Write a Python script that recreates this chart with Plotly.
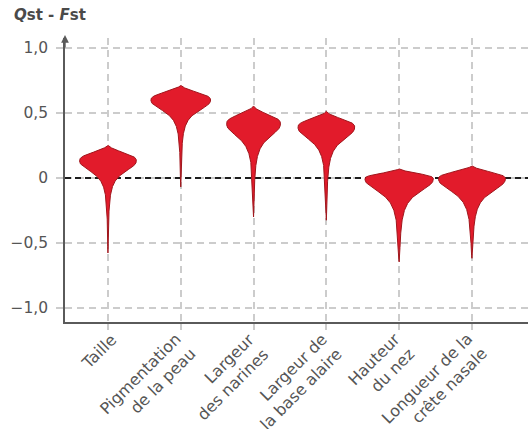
import numpy as np
import plotly.graph_objects as go

# Traits and Qst - Fst distribution summaries
categories = [
    "Taille",
    "Pigmentation<br>de la peau",
    "Largeur<br>des narines",
    "Largeur de<br>la base alaire",
    "Hauteur<br>du nez",
    "Longueur de la<br>crête nasale",
]
dist_max = [0.254, 0.715, 0.554, 0.513, 0.072, 0.095]
dist_mode = [0.133, 0.600, 0.418, 0.392, -0.005, -0.005]
dist_min = [-0.577, -0.069, -0.300, -0.325, -0.646, -0.618]
# relative density at the mode and spread of the lower tail
mode_density = [0.39, 0.41, 0.37, 0.39, 0.47, 0.46]
tail_scale = [0.100, 0.098, 0.120, 0.116, 0.120, 0.118]

y_ticks = [-1.0, -0.5, 0.0, 0.5, 1.0]
y_tick_text = ["\u22121,0", "\u22120,5", "0", "0,5", "1,0"]

X_RANGE = [-0.59, 5.77]
Y_RANGE = [-1.108, 1.077]

FILL = "#e21b2b"
EDGE = "#a0161c"
GRID = "#cccccc"
AXIS = "#5a5a5a"
FONT = "DejaVu Sans"
LABEL_SIZE = 16
PLOT_H = 429 - 38 - 107


def violin_outline(center, top, mode, bottom, width, scale, n=500):
    """Closed outline of an asymmetric violin: rounded head above the mode,
    heavy tail below it."""
    ys = np.linspace(bottom, top, n)
    w = np.zeros_like(ys)
    up = ys >= mode
    d_up = ys[up] - mode
    span_up = top - mode
    s = 0.69 * span_up
    g_end = np.exp(-(span_up / s) ** 2.5)
    g = (np.exp(-(d_up / s) ** 2.5) - g_end) / (1 - g_end)
    w[up] = np.clip(g, 0, None) ** 1.1
    lo = ~up
    d_lo = mode - ys[lo]
    span_lo = mode - bottom
    taper = np.sqrt(np.clip(1 - (d_lo / span_lo) ** 8, 0, None))
    w[lo] = taper / (1 + (d_lo / scale) ** 2.4)
    w *= width
    xs = np.concatenate([center - w, (center + w)[::-1]])
    yy = np.concatenate([ys, ys[::-1]])
    return xs, yy


fig = go.Figure()

# dashed reference line at zero, beneath the violins
fig.add_trace(go.Scatter(
    x=X_RANGE, y=[0, 0], mode="lines",
    line=dict(color="#1e1e1e", width=2, dash="6px,4px"),
    hoverinfo="skip", showlegend=False, cliponaxis=False,
))

for i, name in enumerate(categories):
    xs, ys = violin_outline(i, dist_max[i], dist_mode[i], dist_min[i],
                            mode_density[i], tail_scale[i])
    fig.add_trace(go.Scatter(
        x=xs, y=ys, mode="lines", fill="toself",
        fillcolor=FILL, line=dict(color=EDGE, width=1),
        hoverinfo="skip", showlegend=False,
    ))

# slanted category labels: the first line ends just under its tick
for i, label in enumerate(categories):
    n_lines = label.count("<br>") + 1
    fig.add_annotation(
        xref="x", yref="paper", x=i, y=-5 / PLOT_H,
        text=label, textangle=-45, showarrow=False,
        xanchor="right", yanchor="top", align="right",
        xshift=15 + 7 * (n_lines - 1),
        font=dict(family=FONT, size=LABEL_SIZE, color="#555555"),
    )

# arrowhead on top of the y axis
fig.add_annotation(
    xref="paper", yref="paper", x=0, y=1.0, yshift=3,
    ax=0, ay=14, text="", showarrow=True,
    arrowhead=2, arrowsize=1.1, arrowwidth=1.4, arrowcolor=AXIS,
)

fig.update_layout(
    width=528, height=429,
    margin=dict(l=65, r=0, t=38, b=107, autoexpand=False),
    paper_bgcolor="white", plot_bgcolor="white",
    font=dict(family=FONT, color="#555555"),
    title=dict(
        text="<b><i>Q</i>st - <i>F</i>st</b>",
        x=14 / 528, xanchor="left", xref="container",
        y=1 - 9 / 429, yanchor="top", yref="container",
        font=dict(family=FONT, size=15, color="#4a4a4a"),
    ),
)

fig.update_xaxes(
    range=X_RANGE, automargin=False,
    tickvals=list(range(len(categories))), showticklabels=False,
    ticks="outside", ticklen=6, tickcolor=GRID, tickwidth=1.5,
    showgrid=True, gridcolor=GRID, gridwidth=1.5, griddash="7px,5px",
    showline=True, linecolor=AXIS, linewidth=1.5,
    zeroline=False, fixedrange=True,
)
fig.update_yaxes(
    range=Y_RANGE, automargin=False,
    tickvals=y_ticks, ticktext=y_tick_text,
    tickfont=dict(family=FONT, size=15.5, color="#555555"),
    ticks="outside", ticklen=7, tickcolor=GRID, tickwidth=1.5,
    ticklabelstandoff=5,
    showgrid=True, gridcolor=GRID, gridwidth=1.5, griddash="7px,5px",
    showline=True, linecolor=AXIS, linewidth=1.5,
    zeroline=False, fixedrange=True,
)

fig.write_html("out.html")
